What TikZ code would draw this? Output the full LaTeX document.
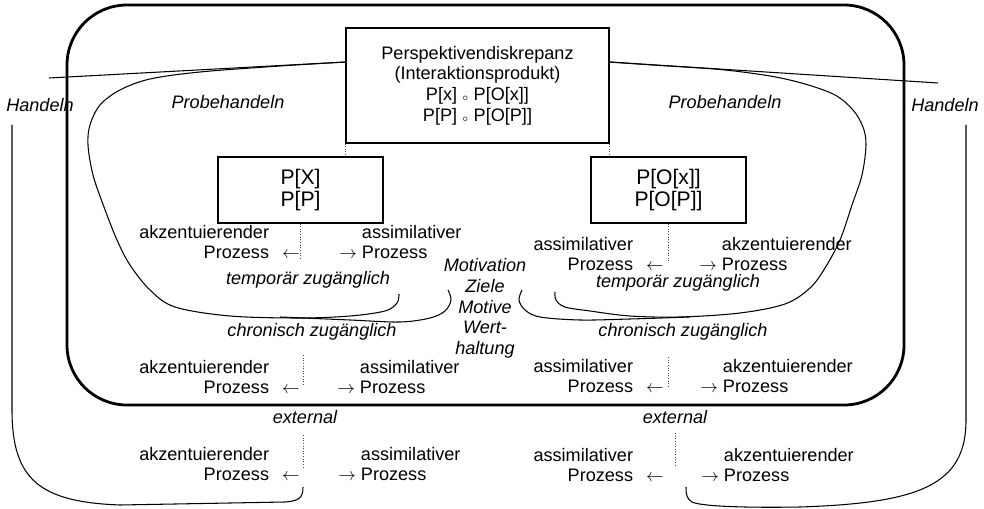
\documentclass[tikz,border=0pt]{standalone}
\usepackage{fontspec}
\setmainfont{Liberation Sans}

\begin{document}
\begin{tikzpicture}[x=0.2mm, y=-0.2mm,
  every node/.style={font=\fontsize{10.3}{11.8}\selectfont, inner sep=0pt},
  lab/.style={font=\fontsize{10.3}{11.8}\selectfont\itshape},
  box/.style={draw, line width=0.6pt, align=center},
  big/.style={font=\fontsize{12}{12.5}\selectfont},
  lproc/.style={anchor=east, align=right},
  rproc/.style={anchor=west, align=left},
  dots/.style={densely dotted, line width=0.5pt, black!70},
  thin line/.style={line width=0.6pt}]

\useasboundingbox (0,0) rectangle (984,509);

% Rahmen
\draw[line width=1.6pt, rounded corners=12mm] (67,5) rectangle (904,405);

% Kaesten
\node (persp) [box, minimum width=52.6mm, minimum height=23mm] at (477.5,85.5)
  {Perspektivendiskrepanz\\(Interaktionsprodukt)\\P[x] $\scriptscriptstyle\circ$ P[O[x]]\\P[P] $\scriptscriptstyle\circ$ P[O[P]]};
\node (selbst) [box, big, minimum width=33mm, minimum height=13.2mm] at (300.5,190) {P[X]\\P[P]};
\node (fremd) [box, big, minimum width=31mm, minimum height=13.2mm] at (668.5,190) {P[O[x]]\\P[O[P]]};

% Punktlinien
\coordinate (intL) at (303,355);
\coordinate (intR) at (668,357);
\coordinate (exL) at (303,435);
\coordinate (exR) at (675,433);
\draw[dots] (persp.south west) -- (persp.south west |- selbst.north);
\draw[dots] (persp.south east) -- (persp.south east |- fremd.north);
\draw[dots] (selbst.south) -- ++(0,35);
\draw[dots] (fremd.south) -- ++(0,38);
\draw[dots] (intL) -- ++(0,30);
\draw[dots] (intR) -- ++(0,30);
\draw[dots] (exL) -- ++(0,32);
\draw[dots] (exR) -- ++(0,34);

% Prozesse
\node (akzA) [lproc] at (300,242) {akzentuierender\phantom{\hspace{2.6mm}$\leftarrow$}\\Prozess\hspace{2.6mm}$\leftarrow$};
\node (assA) [rproc] at (339,242) {\phantom{$\rightarrow$~}assimilativer\\$\rightarrow$~Prozess};
\node (assB) [lproc] at (664,254) {assimilativer\phantom{\hspace{2.6mm}$\leftarrow$}\\Prozess\hspace{2.6mm}$\leftarrow$};
\node (akzB) [rproc] at (699,254) {\phantom{$\rightarrow$~}akzentuierender\\$\rightarrow$~Prozess};
\node (akzC) [lproc] at (300,377) {akzentuierender\phantom{\hspace{2.6mm}$\leftarrow$}\\Prozess\hspace{2.6mm}$\leftarrow$};
\node (assC) [rproc] at (337,377) {\phantom{$\rightarrow$~}assimilativer\\$\rightarrow$~Prozess};
\node (assD) [lproc] at (664,376) {assimilativer\phantom{\hspace{2.6mm}$\leftarrow$}\\Prozess\hspace{2.6mm}$\leftarrow$};
\node (akzD) [rproc] at (700,376) {\phantom{$\rightarrow$~}akzentuierender\\$\rightarrow$~Prozess};
\node (akzE) [lproc] at (300,464) {akzentuierender\phantom{\hspace{2.6mm}$\leftarrow$}\\Prozess\hspace{2.6mm}$\leftarrow$};
\node (assE) [rproc] at (338,464) {\phantom{$\rightarrow$~}assimilativer\\$\rightarrow$~Prozess};
\node (assF) [lproc] at (664,465) {assimilativer\phantom{\hspace{2.6mm}$\leftarrow$}\\Prozess\hspace{2.6mm}$\leftarrow$};
\node (akzF) [rproc] at (701,465) {\phantom{$\rightarrow$~}akzentuierender\\$\rightarrow$~Prozess};

% Beschriftungen
\node (handL) [lab] at (40,105) {Handeln};
\node (handR) [lab] at (945,105) {Handeln};
\node (probL) [lab] at (228,102) {Probehandeln};
\node (probR) [lab] at (725,102) {Probehandeln};
\node (tempL) [lab] at (308,280) {temporär zugänglich};
\node (tempR) [lab] at (678,283) {temporär zugänglich};
\node (chroL) [lab] at (312,332) {chronisch zugänglich};
\node (chroR) [lab] at (683,332) {chronisch zugänglich};
\node (extL) [lab] at (305,417) {external};
\node (extR) [lab] at (675,417) {external};
\node (motiv) [lab, align=center] at (485,308.5) {Motivation\\Ziele\\Motive\\Wert-\\haltung};

% Handeln
\coordinate (hL) at (49,78);
\coordinate (hR) at (938,83);
\draw[thin line] (hL) -- ([yshift=4.7mm]persp.west);
\draw[thin line] ([yshift=4.7mm]persp.east) -- (hR);
\draw[thin line] (12,125) -- (12,410) .. controls (12,480) and (40,502) .. (120,505)
  -- (285,502) .. controls (300,501) and (303,497) .. (303,487);
\draw[thin line] (966,125) -- (966,420) .. controls (966,485) and (920,503) .. (800,507)
  .. controls (740,508) and (700,506) .. (692,502) .. controls (687,499) and (686,495) .. (686,487);

% Probehandeln
\draw[thin line] plot[smooth, tension=0.55] coordinates {(346,62) (280,66) (200,72) (150,79)
  (120,90) (100,105) (90,125) (88,145) (93,175) (104,207) (117,240) (130,265) (150,290)
  (175,307) (230,316) (300,318) (350,316) (385,311) (397,303) (399,294)};
\draw[thin line] plot[smooth, tension=0.55] coordinates {(609,62) (660,65.5) (720,69.5) (770,76)
  (805,84) (835,95) (853,110) (863,127) (866,145) (862,175) (852,205) (840,240) (825,268)
  (810,288) (785,304) (740,313) (680,317) (630,316) (590,311) (565,307) (556,300) (555,292)};

% chronisch
\draw[thin line] plot[smooth, tension=0.55] coordinates {(280,317) (350,320) (400,322)
  (430,318) (445,311) (451,300) (448,290)};
\draw[thin line] plot[smooth, tension=0.55] coordinates {(690,317) (630,319) (580,320)
  (540,317) (525,310) (519,300) (522,290)};

\end{tikzpicture}
\end{document}
